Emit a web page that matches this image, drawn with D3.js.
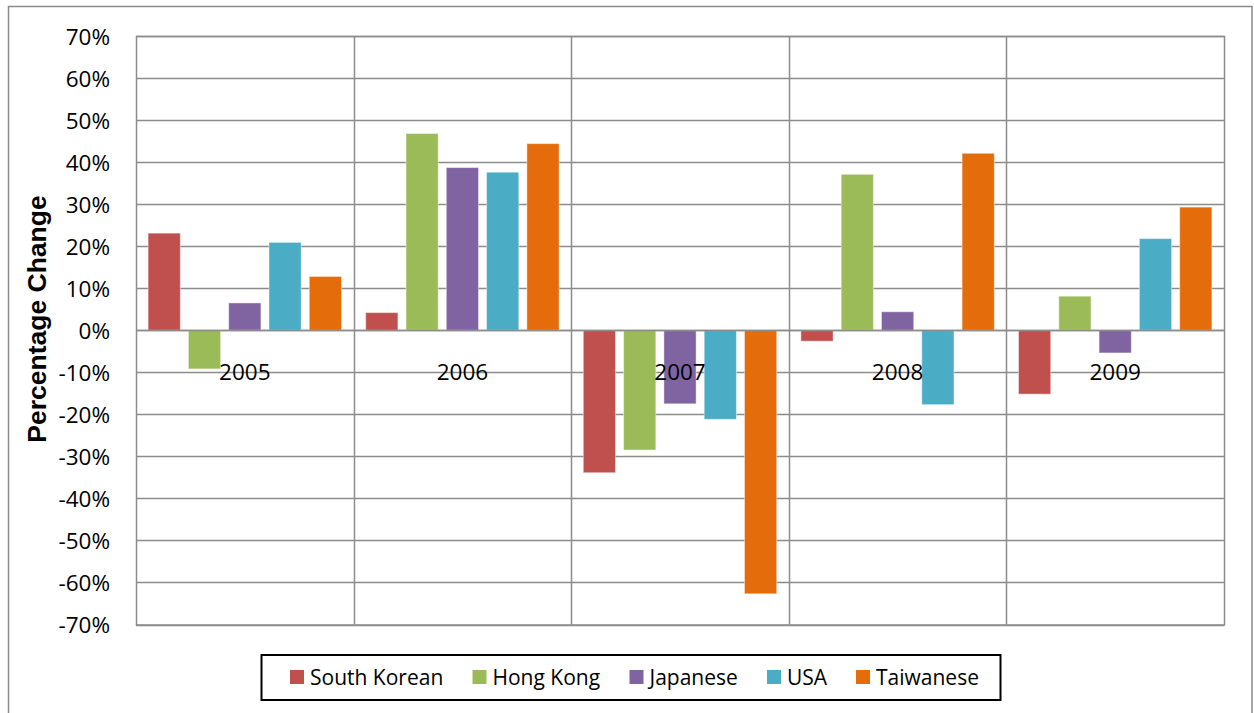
<!DOCTYPE html>
<html>
<head>
<meta charset="utf-8">
<script src="https://cdn.jsdelivr.net/npm/d3@7"></script>
<style>
  html, body { margin: 0; padding: 0; background: #fff; }
  svg { display: block; }
</style>
</head>
<body>
<svg id="chart" width="1254" height="713"></svg>
<script>
const years = ["2005", "2006", "2007", "2008", "2009"];
const seriesNames = ["South Korean", "Hong Kong", "Japanese", "USA", "Taiwanese"];
const seriesColors = ["#C0504D", "#9BBB59", "#8064A2", "#4BACC6", "#E46C0A"];
const southKorean = [23.1, 4.2, -33.9, -2.6, -15.2];
const hongKong   = [-9.2, 46.8, -28.5, 37.1, 8.1];
const japanese   = [6.5, 38.7, -17.5, 4.4, -5.4];
const usa        = [20.9, 37.6, -21.2, -17.7, 21.8];
const taiwanese  = [12.8, 44.4, -62.7, 42.1, 29.3];
const yTicks = [70, 60, 50, 40, 30, 20, 10, 0, -10, -20, -30, -40, -50, -60, -70];
const yTitle = "Percentage Change";

const seriesValues = [southKorean, hongKong, japanese, usa, taiwanese];

const svg = d3.select("#chart");
const plot = { left: 136, right: 1224, top: 36, bottom: 624.5 };

// outer chart border
svg.append("rect")
  .attr("x", 8.5).attr("y", 6.5)
  .attr("width", 1243.5).attr("height", 730)
  .attr("fill", "#fff").attr("stroke", "#8a8a8a").attr("stroke-width", 1.5);

const y = d3.scaleLinear().domain([-70, 70]).range([plot.bottom, plot.top]);
const x0 = d3.scaleBand().domain(years).range([plot.left, plot.right]).paddingInner(0).paddingOuter(0);
const x1 = d3.scaleBand().domain(seriesNames).range([0, x0.bandwidth()]).paddingInner(0.2).paddingOuter(0.3);

const gridColor = "#8c8c8c";

// horizontal gridlines
svg.append("g").selectAll("line").data(yTicks).join("line")
  .attr("x1", plot.left).attr("x2", plot.right)
  .attr("y1", d => Math.round(y(d)) + 0.5).attr("y2", d => Math.round(y(d)) + 0.5)
  .attr("stroke", gridColor).attr("stroke-width", 1.5);

// vertical category dividers
const dividers = years.slice(1).map(d => x0(d));
svg.append("g").selectAll("line").data(dividers).join("line")
  .attr("x1", d => Math.round(d) + 0.5).attr("x2", d => Math.round(d) + 0.5)
  .attr("y1", plot.top).attr("y2", plot.bottom)
  .attr("stroke", gridColor).attr("stroke-width", 1.5);

// plot border
svg.append("rect")
  .attr("x", plot.left + 0.5).attr("y", plot.top + 0.5)
  .attr("width", plot.right - plot.left).attr("height", plot.bottom - plot.top)
  .attr("fill", "none").attr("stroke", gridColor).attr("stroke-width", 1.5);

// bars
const barData = [];
years.forEach((yr, i) => {
  seriesNames.forEach((s, j) => {
    barData.push({ year: yr, series: s, value: seriesValues[j][i], color: seriesColors[j] });
  });
});
svg.append("g").selectAll("rect").data(barData).join("rect")
  .attr("x", d => x0(d.year) + x1(d.series))
  .attr("width", x1.bandwidth())
  .attr("y", d => y(Math.max(0, d.value)))
  .attr("height", d => Math.abs(y(d.value) - y(0)))
  .attr("fill", d => d.color)
  .attr("stroke", "rgba(255,255,255,0.45)").attr("stroke-width", 1);

// zero line
svg.append("line")
  .attr("x1", plot.left).attr("x2", plot.right)
  .attr("y1", Math.round(y(0)) + 0.5).attr("y2", Math.round(y(0)) + 0.5)
  .attr("stroke", gridColor).attr("stroke-width", 1.5);

// y axis labels
const yAxis = d3.axisLeft(y).tickValues(yTicks).tickFormat(d => d + "%").tickSize(0).tickPadding(0);
const yg = svg.append("g").attr("transform", `translate(${plot.left - 26},0)`).call(yAxis);
yg.select(".domain").remove();
yg.selectAll("text")
  .attr("font-family", "'Open Sans', sans-serif").attr("font-size", 22.5).attr("fill", "#000")
  .attr("dy", "0.36em");

// category labels
const xAxis = d3.axisBottom(x0).tickSize(0).tickPadding(0);
const xg = svg.append("g").attr("transform", `translate(0,${y(-10)})`).call(xAxis);
xg.select(".domain").remove();
xg.selectAll("text")
  .attr("font-family", "'Open Sans', sans-serif").attr("font-size", 22.5).attr("fill", "#000")
  .attr("y", 0).attr("dy", "0.36em");

// y title
svg.append("text")
  .attr("transform", `translate(46,319) rotate(-90)`)
  .attr("text-anchor", "middle")
  .attr("font-family", "'Liberation Sans', Arial, sans-serif").attr("font-weight", "bold")
  .attr("font-size", 26.5).attr("fill", "#000")
  .text(yTitle);

// legend
const legend = svg.append("g");
legend.append("rect")
  .attr("x", 261.5).attr("y", 655).attr("width", 739).attr("height", 45)
  .attr("fill", "#fff").attr("stroke", "#000").attr("stroke-width", 2);
const legendX = [290, 472.5, 629.5, 767, 856];
const items = legend.selectAll("g.item").data(seriesNames).join("g")
  .attr("class", "item")
  .attr("transform", (d, i) => `translate(${legendX[i]},0)`);
items.append("rect")
  .attr("x", 0).attr("y", 670).attr("width", 14).attr("height", 14)
  .attr("fill", (d, i) => seriesColors[i]);
items.append("text")
  .attr("x", 20).attr("y", 677).attr("dy", "0.36em")
  .attr("font-family", "'Open Sans', sans-serif").attr("font-size", 21).attr("fill", "#000")
  .text(d => d);
</script>
</body>
</html>
